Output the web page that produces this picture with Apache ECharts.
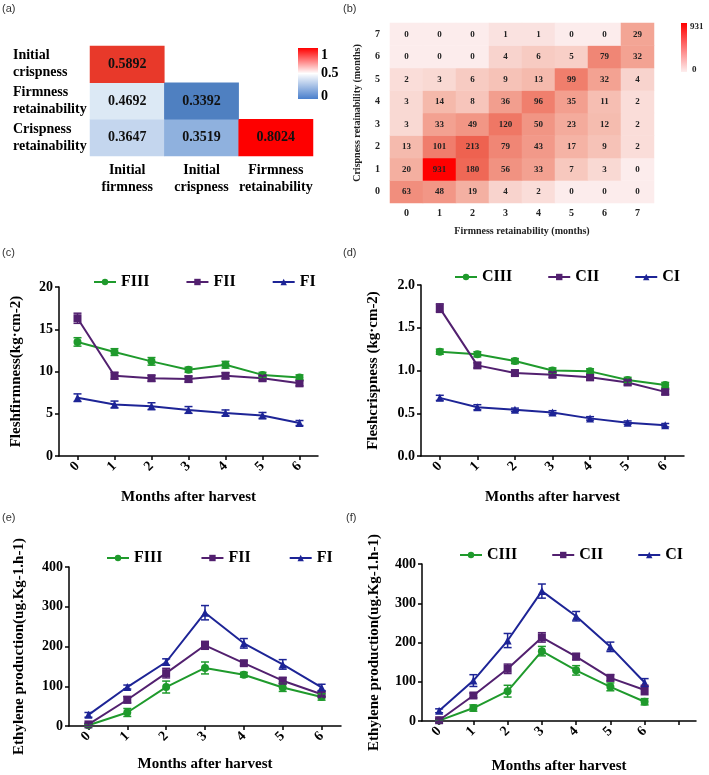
<!DOCTYPE html>
<html>
<head>
<meta charset="utf-8">
<script src="https://cdn.jsdelivr.net/npm/echarts@6/dist/echarts.min.js"></script>
<style>
  html, body { margin: 0; padding: 0; background: #fff; }
  #main { width: 709px; height: 775px; }
</style>
</head>
<body>
<div id="main"></div>
<script>
// (a) correlation matrix
var corrX = ['Initial\nfirmness', 'Initial\ncrispness', 'Firmness\nretainability'];
var corrY = ['Crispness\nretainability', 'Firmness\nretainability', 'Initial\ncrispness'];
var corrInitCrisp = [0.5892];
var corrFirmRet = [0.4692, 0.3392];
var corrCrispRet = [0.3647, 0.3519, 0.8024];

// (b) counts, rows from 0 (bottom) to 7 (top), columns 0..7
var retMonths = ['0', '1', '2', '3', '4', '5', '6', '7'];
var countRows = [
  [63, 48, 19, 4, 2, 0, 0, 0],
  [20, 931, 180, 56, 33, 7, 3, 0],
  [13, 101, 213, 79, 43, 17, 9, 2],
  [3, 33, 49, 120, 50, 23, 12, 2],
  [3, 14, 8, 36, 96, 35, 11, 2],
  [2, 3, 6, 9, 13, 99, 32, 4],
  [0, 0, 0, 4, 6, 5, 79, 32],
  [0, 0, 0, 1, 1, 0, 0, 29]
];

// (c)-(f)
var months = ['0', '1', '2', '3', '4', '5', '6'];
var monthsF = ['0', '1', '2', '3', '4', '5', '6', ''];

var firmFIII = [13.5, 12.3, 11.2, 10.2, 10.8, 9.6, 9.3];
var firmFII = [16.3, 9.5, 9.2, 9.1, 9.5, 9.2, 8.6];
var firmFI = [6.9, 6.1, 5.9, 5.45, 5.1, 4.8, 3.9];
var firmErrFIII = [0.5, 0.4, 0.45, 0.3, 0.4, 0.3, 0.3];
var firmErrFII = [0.6, 0.4, 0.35, 0.35, 0.35, 0.3, 0.3];
var firmErrFI = [0.45, 0.4, 0.4, 0.4, 0.35, 0.35, 0.3];

var crispCIII = [1.22, 1.19, 1.11, 1.0, 0.99, 0.89, 0.83];
var crispCII = [1.73, 1.06, 0.97, 0.95, 0.92, 0.86, 0.75];
var crispCI = [0.68, 0.57, 0.54, 0.51, 0.44, 0.39, 0.36];
var crispErrCIII = [0.03, 0.03, 0.03, 0.03, 0.03, 0.03, 0.03];
var crispErrCII = [0.05, 0.03, 0.03, 0.03, 0.03, 0.03, 0.03];
var crispErrCI = [0.03, 0.03, 0.02, 0.02, 0.02, 0.02, 0.02];

var ethFIII = [2, 34, 98, 146, 129, 97, 73];
var ethFII = [4, 66, 133, 203, 158, 114, 80];
var ethFI = [28, 98, 161, 285, 208, 155, 97];
var ethErrFIII = [3, 10, 15, 15, 6, 10, 8];
var ethErrFII = [3, 8, 12, 10, 6, 8, 6];
var ethErrFI = [6, 5, 8, 18, 12, 12, 8];

var ethCIII = [1, 33, 76, 178, 129, 87, 49];
var ethCII = [2, 65, 133, 213, 164, 110, 79];
var ethCI = [26, 103, 205, 331, 267, 189, 98];
var ethErrCIII = [2, 8, 15, 12, 12, 10, 8];
var ethErrCII = [3, 6, 12, 12, 8, 8, 12];
var ethErrCI = [5, 15, 18, 18, 12, 12, 10];

var GREEN = '#1f9a2c', PURPLE = '#52206f', BLUE = '#1d2496';
var SERIF = '"Liberation Serif", "Times New Roman", serif';

var chart = echarts.init(document.getElementById('main'));

var dataA = [];
[corrCrispRet, corrFirmRet, corrInitCrisp].forEach(function (row, y) {
  row.forEach(function (v, x) { dataA.push([x, y, v]); });
});
var dataB = [];
countRows.forEach(function (row, y) {
  row.forEach(function (v, x) { dataB.push([x, y, v, Math.log(v + 1)]); });
});

function valueAxis(grid, max, step, name, gap, fmt) {
  return {
    type: 'value', gridIndex: grid, min: 0, max: max, interval: step,
    name: name, nameLocation: 'middle', nameGap: gap,
    nameTextStyle: { fontFamily: SERIF, fontWeight: 'bold', fontSize: 15, color: '#000' },
    axisLine: { show: true, lineStyle: { color: '#000', width: 1.5 } },
    axisTick: { show: true, length: 4, lineStyle: { color: '#000', width: 1.5 } },
    splitLine: { show: false },
    axisLabel: { fontFamily: SERIF, fontWeight: 'bold', fontSize: 14, color: '#000', margin: 6, formatter: fmt }
  };
}
function monthAxis(grid, cats, gap) {
  return {
    type: 'category', gridIndex: grid, data: cats, boundaryGap: true,
    name: 'Months after harvest', nameLocation: 'middle', nameGap: gap,
    nameTextStyle: { fontFamily: SERIF, fontWeight: 'bold', fontSize: 15, color: '#000' },
    axisLine: { show: true, lineStyle: { color: '#000', width: 1.5 } },
    axisTick: { show: true, alignWithLabel: true, length: 4, lineStyle: { color: '#000', width: 1.5 } },
    axisLabel: { fontFamily: SERIF, fontWeight: 'bold', fontSize: 14, color: '#000', rotate: 45, margin: 8, interval: 0 }
  };
}

function errBar(params, api) {
  var x = api.value(0);
  var lo = api.coord([x, api.value(1)]);
  var hi = api.coord([x, api.value(2)]);
  var st = { stroke: api.visual('color'), lineWidth: 1.5 };
  return {
    type: 'group', children: [
      { type: 'line', shape: { x1: lo[0], y1: lo[1], x2: hi[0], y2: hi[1] }, style: st },
      { type: 'line', shape: { x1: lo[0] - 4, y1: lo[1], x2: lo[0] + 4, y2: lo[1] }, style: st },
      { type: 'line', shape: { x1: hi[0] - 4, y1: hi[1], x2: hi[0] + 4, y2: hi[1] }, style: st }
    ]
  };
}

var series = [
  {
    type: 'heatmap', xAxisIndex: 0, yAxisIndex: 0, data: dataA,
    label: {
      show: true, fontFamily: SERIF, fontWeight: 'bold', fontSize: 14, color: '#111',
      formatter: function (p) { return p.value[2].toFixed(4); }
    }
  },
  {
    type: 'heatmap', xAxisIndex: 1, yAxisIndex: 1, data: dataB,
    label: {
      show: true, fontFamily: SERIF, fontWeight: 'bold', fontSize: 9, color: '#222',
      formatter: function (p) { return p.value[2]; }
    }
  }
];

function addPanel(ax, names, means, errs, colors) {
  var symbols = ['circle', 'rect', 'triangle'];
  names.forEach(function (n, i) {
    series.push({
      name: n, type: 'line', xAxisIndex: ax, yAxisIndex: ax, data: means[i],
      symbol: symbols[i], symbolSize: 8, z: 3,
      itemStyle: { color: colors[i] }, lineStyle: { color: colors[i], width: 2 }
    });
    series.push({
      type: 'custom', xAxisIndex: ax, yAxisIndex: ax, renderItem: errBar, z: 4,
      itemStyle: { color: colors[i] }, encode: { x: 0, y: [1, 2] },
      data: means[i].map(function (m, k) { return [k, m - errs[i][k], m + errs[i][k]]; })
    });
  });
}
var cols = [GREEN, PURPLE, BLUE];
addPanel(2, ['FIII', 'FII', 'FI'], [firmFIII, firmFII, firmFI], [firmErrFIII, firmErrFII, firmErrFI], cols);
addPanel(3, ['CIII', 'CII', 'CI'], [crispCIII, crispCII, crispCI], [crispErrCIII, crispErrCII, crispErrCI], cols);
addPanel(4, ['FIII', 'FII', 'FI'], [ethFIII, ethFII, ethFI], [ethErrFIII, ethErrFII, ethErrFI], cols);
addPanel(5, ['CIII', 'CII', 'CI'], [ethCIII, ethCII, ethCI], [ethErrCIII, ethErrCII, ethErrCI], cols);

function legendAt(left, top, names, gap) {
  return {
    left: left, top: top, data: names, itemGap: gap, itemWidth: 22, itemHeight: 8,
    textStyle: { fontFamily: SERIF, fontWeight: 'bold', fontSize: 16, color: '#000' }
  };
}

var heatLabel = { fontFamily: SERIF, fontWeight: 'bold', fontSize: 14, color: '#000' };
var smallLabel = { fontFamily: SERIF, fontWeight: 'bold', fontSize: 10, color: '#222' };

function panelTag(t, x, y) {
  return { type: 'text', x: x, y: y, style: { text: t, font: '11px "Liberation Sans", Arial, sans-serif', fill: '#333' } };
}

var option = {
  backgroundColor: '#fff',
  animation: false,
  grid: [
    { left: 90, top: 46, width: 223, height: 110 },
    { left: 390, top: 23, width: 264, height: 180 },
    { left: 59, top: 287, width: 259, height: 169 },
    { left: 421, top: 285, width: 263, height: 171 },
    { left: 69, top: 567, width: 272, height: 159 },
    { left: 422, top: 564, width: 274, height: 158 }
  ],
  xAxis: [
    {
      type: 'category', gridIndex: 0, data: corrX,
      axisLine: { show: false }, axisTick: { show: false }, splitArea: { show: false },
      axisLabel: Object.assign({ margin: 6, lineHeight: 17, interval: 0 }, heatLabel)
    },
    {
      type: 'category', gridIndex: 1, data: retMonths,
      name: 'Firmness retainability (months)', nameLocation: 'middle', nameGap: 23,
      nameTextStyle: smallLabel,
      axisLine: { show: false }, axisTick: { show: false },
      axisLabel: Object.assign({ margin: 5 }, smallLabel)
    },
    monthAxis(2, months, 34),
    monthAxis(3, months, 34),
    monthAxis(4, months, 31),
    monthAxis(5, monthsF, 38)
  ],
  yAxis: [
    {
      type: 'category', gridIndex: 0, data: corrY,
      axisLine: { show: false }, axisTick: { show: false },
      axisLabel: Object.assign({ align: 'left', margin: 77, lineHeight: 17 }, heatLabel)
    },
    {
      type: 'category', gridIndex: 1, data: retMonths,
      name: 'Crispness retainability (months)', nameLocation: 'middle', nameGap: 28,
      nameTextStyle: smallLabel,
      axisLine: { show: false }, axisTick: { show: false },
      axisLabel: Object.assign({ margin: 10 }, smallLabel)
    },
    valueAxis(2, 20, 5, 'Fleshfirmness(kg·cm-2)', 35),
    valueAxis(3, 2, 0.5, 'Fleshcrispness (kg·cm-2)', 40, function (v) { return v.toFixed(1); }),
    valueAxis(4, 400, 100, 'Ethylene production(ug.Kg-1.h-1)', 42),
    valueAxis(5, 400, 100, 'Ethylene production(ug.Kg-1.h-1)', 40)
  ],
  visualMap: [
    {
      type: 'piecewise', show: false, seriesIndex: 0, dimension: 2,
      pieces: [
        { lt: 0.345, color: '#4f80c1' },
        { gte: 0.345, lt: 0.358, color: '#8fb1de' },
        { gte: 0.358, lt: 0.42, color: '#c4d6ee' },
        { gte: 0.42, lt: 0.53, color: '#dce9f5' },
        { gte: 0.53, lt: 0.7, color: '#e8392a' },
        { gte: 0.7, color: '#fe0000' }
      ]
    },
    {
      type: 'continuous', show: false, seriesIndex: 1, dimension: 3,
      min: 0, max: Math.log(932),
      inRange: { color: ['#fcecec', '#f9d9d4', '#f5b8aa', '#f1907f', '#ee5e4c', '#ff0000'] }
    }
  ],
  legend: [
    legendAt(88, 269, ['FIII', 'FII', 'FI'], 36),
    legendAt(449, 264, ['CIII', 'CII', 'CI'], 35),
    legendAt(101, 545, ['FIII', 'FII', 'FI'], 38),
    legendAt(454, 542, ['CIII', 'CII', 'CI'], 34)
  ],
  graphic: [
    panelTag('(a)', 2, 3), panelTag('(b)', 343, 3),
    panelTag('(c)', 2, 247), panelTag('(d)', 343, 247),
    panelTag('(e)', 2, 512), panelTag('(f)', 346, 512),
    {
      type: 'rect', shape: { x: 298, y: 48, width: 20, height: 51 },
      style: {
        fill: new echarts.graphic.LinearGradient(0, 0, 0, 1, [
          { offset: 0, color: '#ff0000' }, { offset: 0.5, color: '#ffffff' }, { offset: 1, color: '#4a7fcc' }
        ])
      }
    },
    { type: 'text', x: 321, y: 55, style: { text: '1', font: 'bold 14px ' + SERIF, fill: '#000', textVerticalAlign: 'middle' } },
    { type: 'text', x: 321, y: 73, style: { text: '0.5', font: 'bold 14px ' + SERIF, fill: '#000', textVerticalAlign: 'middle' } },
    { type: 'text', x: 321, y: 96, style: { text: '0', font: 'bold 14px ' + SERIF, fill: '#000', textVerticalAlign: 'middle' } },
    {
      type: 'rect', shape: { x: 681, y: 23, width: 6, height: 49 },
      style: {
        fill: new echarts.graphic.LinearGradient(0, 0, 0, 1, [
          { offset: 0, color: '#ff0000' }, { offset: 1, color: '#fdeeee' }
        ])
      }
    },
    { type: 'text', x: 690, y: 27, style: { text: '931', font: 'bold 9px ' + SERIF, fill: '#222', textVerticalAlign: 'middle' } },
    { type: 'text', x: 692, y: 70, style: { text: '0', font: 'bold 9px ' + SERIF, fill: '#222', textVerticalAlign: 'middle' } }
  ],
  series: series
};

chart.setOption(option);
</script>
</body>
</html>
